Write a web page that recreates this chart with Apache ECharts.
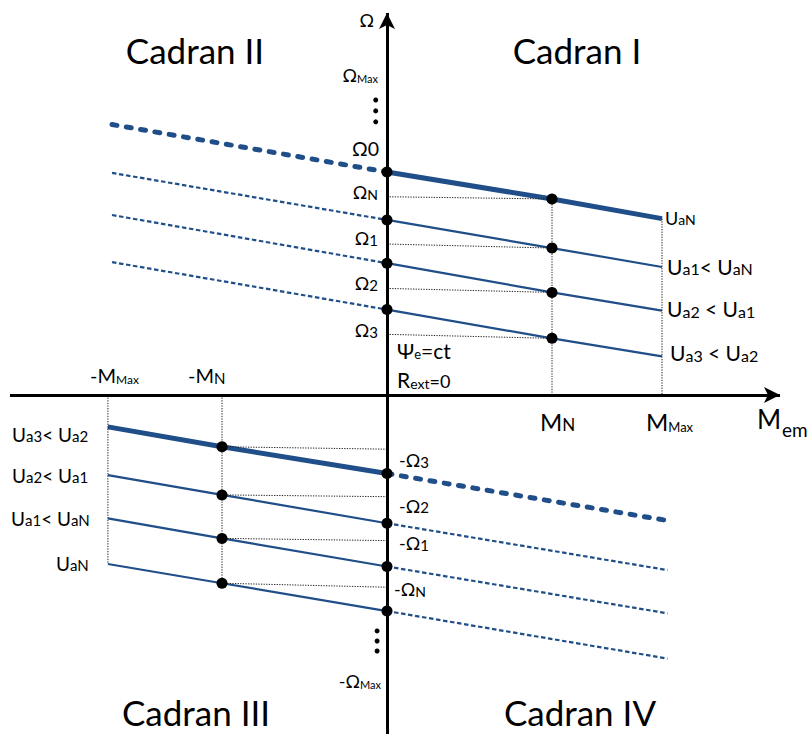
<!DOCTYPE html>
<html><head><meta charset="utf-8">
<script src="https://cdn.jsdelivr.net/npm/echarts@6/dist/echarts.min.js"></script>
<style>html,body{margin:0;padding:0;background:#fff}#c{width:809px;height:734px}</style>
</head><body><div id="c"></div>
<script>
// ---------- data (abstract units: torque M with M_N = 6, M_Max = 10; speed Ω with Ω0 = 100) ----------
const torqueQ1 = [0, 6, 10];            // 0, M_N, M_Max
const torqueQ3 = [-10.15, -6, 0];       // -M_Max, -M_N, 0
const torqueLeftEnd = -10;              // end of dashed extension (quadrant II)
const torqueRightEnd = 10.2;            // end of dashed extension (quadrant IV)

// Quadrant I characteristics (UaN, Ua1, Ua2, Ua3): speed at M = 0, M_N, M_Max
const q1AtZero = [100, 78.5, 59.1, 38.3];
const q1AtMN   = [87.9, 65.9, 46.0, 25.4];
const q1AtMMax = [79.1, 57.4, 37.8, 17.3];
// Quadrant II dashed extension: speed at left end
const q2AtLeft = [121.3, 99.6, 80.7, 59.6];
// Quadrant III characteristics (Ua3, Ua2, Ua1, UaN): speed at -M_Max, -M_N, 0
const q3AtMMax = [-14.3, -35.9, -55.3, -75.8];
const q3AtMN   = [-23.2, -44.8, -64.3, -84.4];
const q3AtZero = [-35.2, -57.5, -76.9, -96.9];
// Quadrant IV dashed extension: speed at right end
const q4AtRight = [-56.3, -78.5, -97.9, -118.2];
// Speed levels where dotted guides meet the Ω axis
const omegaLevelsPos = [88.9, 67.7, 47.8, 27.2];     // ΩN, Ω1, Ω2, Ω3
const omegaLevelsNeg = [-24.3, -45.6, -65.3, -86.2]; // -Ω3, -Ω2, -Ω1, -ΩN
// Axis extents
const axisM = [-13.71, 14.29];
const axisOmega = [-152, 171.3];
// Vertical ellipsis marks next to the Ω axis
const ellipsisX = -0.41;
const ellipsisUpper = [132.3, 127.4, 122.5];
const ellipsisLower = [-105.8, -110.3, -114.8];

// ---------- chart ----------
const BLUE = '#1f4e89';
const FF = "Lato, 'Noto Sans', 'DejaVu Sans', sans-serif";
const chart = echarts.init(document.getElementById('c'), null, {renderer: 'svg'});

const series = [];
function line(data, width, dash, cap, color) {
  series.push({
    type: 'line', data, symbol: 'none', silent: true, clip: false,
    lineStyle: {color: color || BLUE, width, type: dash || 'solid', cap: cap || 'butt', opacity: 1},
    emphasis: {disabled: true}, z: 3
  });
}
const THICK_DASH = [5, 9.5], THIN_DASH = [4.5, 2.6], DOT = [1.3, 1.3];
for (let i = 0; i < 4; i++) {
  const w = i === 0 ? 5 : 2.2;
  // Quadrant I solid
  line([[torqueQ1[0], q1AtZero[i]], [torqueQ1[1], q1AtMN[i]], [torqueQ1[2], q1AtMMax[i]]], w);
  // Quadrant II dashed
  line([[torqueLeftEnd, q2AtLeft[i]], [0, q1AtZero[i]]], w, i === 0 ? THICK_DASH : THIN_DASH, i === 0 ? 'round' : 'butt');
  // Quadrant III solid
  line([[torqueQ3[0], q3AtMMax[i]], [torqueQ3[1], q3AtMN[i]], [torqueQ3[2], q3AtZero[i]]], w);
  // Quadrant IV dashed
  line([[0, q3AtZero[i]], [torqueRightEnd, q4AtRight[i]]], w, i === 0 ? THICK_DASH : THIN_DASH, i === 0 ? 'round' : 'butt');
  // dotted guides
  line([[0, omegaLevelsPos[i]], [torqueQ1[1], q1AtMN[i]]], 1, DOT, 'butt', '#222');
  line([[torqueQ3[1], q3AtMN[i]], [0, omegaLevelsNeg[i]]], 1, DOT, 'butt', '#222');
}
line([[torqueQ1[1], q1AtMN[0]], [torqueQ1[1], 0]], 1, DOT, 'butt', '#222');
line([[torqueQ1[2], q1AtMMax[0]], [torqueQ1[2], 0]], 1, DOT, 'butt', '#222');
line([[torqueQ3[1], 0], [torqueQ3[1], q3AtMN[3]]], 1, DOT, 'butt', '#222');
line([[torqueQ3[0], 0], [torqueQ3[0], q3AtMMax[3]]], 1, DOT, 'butt', '#222');

// axes with arrows
series.push({
  type: 'line', data: [[0, 0]], symbol: 'none', silent: true, z: 5,
  markLine: {
    silent: true, animation: false, symbol: ['none', 'arrow'], symbolSize: [12, 16],
    label: {show: false}, emphasis: {disabled: true},
    lineStyle: {color: '#000', width: 3, type: 'solid', opacity: 1},
    data: [
      [{coord: [axisM[0], 0]}, {coord: [axisM[1], 0]}],
      [{coord: [0, axisOmega[0]]}, {coord: [0, axisOmega[1]]}]
    ]
  }
});

// intersection dots
const dots = [];
for (let i = 0; i < 4; i++) {
  dots.push([0, q1AtZero[i]], [torqueQ1[1], q1AtMN[i]], [torqueQ3[1], q3AtMN[i]], [0, q3AtZero[i]]);
}
series.push({type: 'scatter', data: dots, symbol: 'circle', symbolSize: 11, silent: true, z: 6,
  itemStyle: {color: '#000', opacity: 1}, emphasis: {disabled: true}});
series.push({type: 'scatter', data: ellipsisUpper.map(v => [ellipsisX, v]).concat(ellipsisLower.map(v => [ellipsisX + 0.05, v])),
  symbol: 'circle', symbolSize: 5, silent: true, z: 6, itemStyle: {color: '#000', opacity: 1}, emphasis: {disabled: true}});

// ---------- texts ----------
function T(x, y, str, sizes, align) {
  const rich = {};
  for (const k in sizes) rich[k] = {fontSize: sizes[k], fontFamily: FF, fill: '#000', verticalAlign: 'bottom'};
  return {type: 'text', x, y, silent: true, z: 10,
    style: {text: str, rich, align: align || 'left', verticalAlign: 'middle', fontFamily: FF, fontSize: 18, fill: '#000'}};
}
const graphics = [
  T(195, 50, '{c|Cadran II}', {c: 35}, 'center'),
  T(577, 50, '{c|Cadran I}', {c: 35}, 'center'),
  T(196, 712, '{c|Cadran III}', {c: 35}, 'center'),
  T(580, 712, '{c|Cadran IV}', {c: 35}, 'center'),

  T(374, 20, '{b|Ω}', {b: 18}, 'right'),
  T(378, 75, '{b|Ω}{x|Max}', {b: 18, x: 11}, 'right'),
  T(379, 148, '{b|Ω0}', {b: 19.5}, 'right'),
  T(378, 192, '{b|Ω}{s|N}', {b: 18, s: 14}, 'right'),
  T(378, 238, '{b|Ω}{s|1}', {b: 18, s: 15}, 'right'),
  T(378, 283, '{b|Ω}{s|2}', {b: 18, s: 15}, 'right'),
  T(378, 330, '{b|Ω}{s|3}', {b: 18, s: 15}, 'right'),

  T(397, 350, '{p|Ψ}{e|e}{p|=ct}', {p: 21, e: 13}),
  T(397, 379.5, '{p|R}{e|ext}{q|=0}', {p: 21, e: 14, q: 18}),

  T(665, 217.5, '{b|U}{s|aN}', {b: 18, s: 14}),
  T(667, 266, '{b|U}{s|a1}{b|< U}{s|aN}', {b: 21, s: 16}),
  T(667, 308.5, '{b|U}{s|a2}{b| < U}{s|a1}', {b: 21, s: 16}),
  T(670, 352.5, '{b|U}{s|a3}{b| < U}{s|a2}', {b: 21, s: 16}),

  T(540, 421, '{m|M}{n|N}', {m: 24, n: 17}),
  T(646, 421, '{m|M}{x|Max}', {m: 24, x: 13}),
  T(757, 419, '{m|M}', {m: 26}),
  T(782, 429, '{e|em}', {e: 19}),

  T(90, 375, '{m|-M}{x|Max}', {m: 20, x: 12}),
  T(188, 375, '{m|-M}{n|N}', {m: 20, n: 15}),

  T(12, 434, '{b|U}{s|a3}{b|< U}{s|a2}', {b: 19, s: 15}),
  T(12, 475, '{b|U}{s|a2}{b|< U}{s|a1}', {b: 19, s: 15}),
  T(11, 518, '{b|U}{s|a1}{b|< U}{s|aN}', {b: 19, s: 15}),
  T(56, 563, '{b|U}{s|aN}', {b: 19, s: 15}),

  T(399, 460, '{b|-Ω}{s|3}', {b: 18, s: 15}),
  T(399, 505.5, '{b|-Ω}{s|2}', {b: 18, s: 15}),
  T(399, 543, '{b|-Ω}{s|1}', {b: 18, s: 15}),
  T(394, 589, '{b|-Ω}{s|N}', {b: 18, s: 14}),
  T(381, 681, '{b|-Ω}{x|Max}', {b: 18, x: 11}, 'right')
];

chart.setOption({
  animation: false,
  backgroundColor: '#fff',
  grid: {left: 2, top: 2.52, width: 797.5, height: 731.44, containLabel: false},
  xAxis: {type: 'value', min: -14, max: 15, show: false},
  yAxis: {type: 'value', min: -152, max: 176, show: false},
  series,
  graphic: graphics
});
</script>
</body></html>
